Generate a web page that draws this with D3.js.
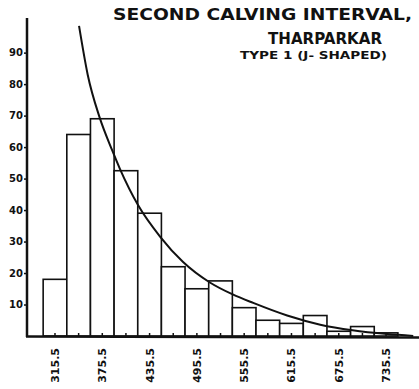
<!DOCTYPE html>
<html>
<head>
<meta charset="utf-8">
<script src="https://cdn.jsdelivr.net/npm/d3@7"></script>
<style>
  html, body { margin: 0; padding: 0; background: #fff; }
  svg { display: block; }
  text { font-family: "DejaVu Sans", sans-serif; font-weight: bold; fill: #111; }
</style>
</head>
<body>
<script>
// class mid points (days) and number of cows in each class
var classMids = [315.5, 345.5, 375.5, 405.5, 435.5, 465.5, 495.5, 525.5, 555.5, 585.5, 615.5, 645.5, 675.5, 705.5, 735.5];
var counts = [18, 64, 69, 52.5, 39, 22, 15, 17.5, 9, 5, 4, 6.5, 1.5, 3, 1];
var classWidth = 30;
// fitted J-shaped curve
var curveX = [346, 357, 372, 388, 398, 421, 449, 478, 512, 541, 567, 610, 652, 693, 737, 770];
var curveY = [98.5, 83, 69.5, 59, 53, 41.5, 31.5, 23.5, 17, 13.2, 10.5, 6.5, 3.6, 1.8, 0.6, 0];
var yTicks = [10, 20, 30, 40, 50, 60, 70, 80, 90];
var xLabels = [315.5, 375.5, 435.5, 495.5, 555.5, 615.5, 675.5, 735.5];
var titleLines = ['SECOND CALVING INTERVAL,', 'THARPARKAR', 'TYPE 1 (J- SHAPED)'];

(function(){
var W = 419, H = 389,
  svg = d3.select('body').append('svg').attr('width', W).attr('height', H),
  x = d3.scaleLinear().domain([280, 776]).range([27, 418]),
  y = d3.scaleLinear().domain([0, 101]).range([336, 18]),
  drawBars = function(){
    svg.append('g').selectAll('rect')
      .data(classMids)
      .join('rect')
      .attr('x', function(d){ return x(d - classWidth / 2); })
      .attr('width', function(d){ return x(d + classWidth / 2) - x(d - classWidth / 2); })
      .attr('y', function(d, i){ return y(counts[i]); })
      .attr('height', function(d, i){ return y(0) - y(counts[i]); })
      .attr('fill', '#fff')
      .attr('stroke', '#111')
      .attr('stroke-width', 1.6);
    // little ticks at class centres
    svg.append('g').selectAll('line')
      .data(classMids)
      .join('line')
      .attr('x1', function(d){ return x(d); })
      .attr('x2', function(d){ return x(d); })
      .attr('y1', y(0))
      .attr('y2', y(0) - 3)
      .attr('stroke', '#111')
      .attr('stroke-width', 1.5);
  },
  drawCurve = function(){
    var pts = curveX.map(function(d, i){ return [d, curveY[i]]; });
    svg.append('path')
      .datum(pts)
      .attr('fill', 'none')
      .attr('stroke', '#111')
      .attr('stroke-width', 2)
      .attr('d', d3.line()
        .x(function(d){ return x(d[0]); })
        .y(function(d){ return y(d[1]); })
        .curve(d3.curveMonotoneX));
  },
  drawAxes = function(){
    var gy = svg.append('g')
      .attr('transform', 'translate(' + x(280) + ',0)')
      .call(d3.axisLeft(y).tickValues(yTicks).tickSize(3).tickPadding(1).tickFormat(d3.format('d')));
    gy.select('.domain').remove();
    gy.selectAll('line').attr('stroke', '#111').attr('stroke-width', 1.5);
    gy.selectAll('text').attr('font-size', 10).attr('fill', '#111')
      .style('font-family', '"DejaVu Sans", sans-serif').style('font-weight', 'bold');
    svg.append('line')
      .attr('x1', x(280)).attr('x2', x(280))
      .attr('y1', y(101)).attr('y2', y(0) + 1)
      .attr('stroke', '#111').attr('stroke-width', 2.5);
    svg.append('line')
      .attr('x1', x(280) - 1).attr('x2', W)
      .attr('y1', y(0) + 0.5).attr('y2', y(0) + 1.5)
      .attr('stroke', '#111').attr('stroke-width', 2.5);
    svg.append('g').selectAll('text')
      .data(xLabels)
      .join('text')
      .attr('transform', function(d){ return 'translate(' + (x(d) + 4) + ',' + 348 + ') rotate(-90)'; })
      .attr('text-anchor', 'end')
      .attr('font-size', 11)
      .text(function(d){ return d3.format('.1f')(d); });
  },
  drawTitle = function(){
    var spec = [
      {x: 113, y: 20, size: 16.5, len: 299},
      {x: 268, y: 44, size: 15, len: 114},
      {x: 240, y: 59, size: 11, len: 147}
    ];
    svg.append('g').selectAll('text')
      .data(titleLines)
      .join('text')
      .attr('x', function(d, i){ return spec[i].x; })
      .attr('y', function(d, i){ return spec[i].y; })
      .attr('font-size', function(d, i){ return spec[i].size; })
      .attr('textLength', function(d, i){ return spec[i].len; })
      .attr('lengthAdjust', 'spacingAndGlyphs')
      .text(function(d){ return d; });
  };
drawBars();
drawCurve();
drawAxes();
drawTitle();
})();
</script>
</body>
</html>
